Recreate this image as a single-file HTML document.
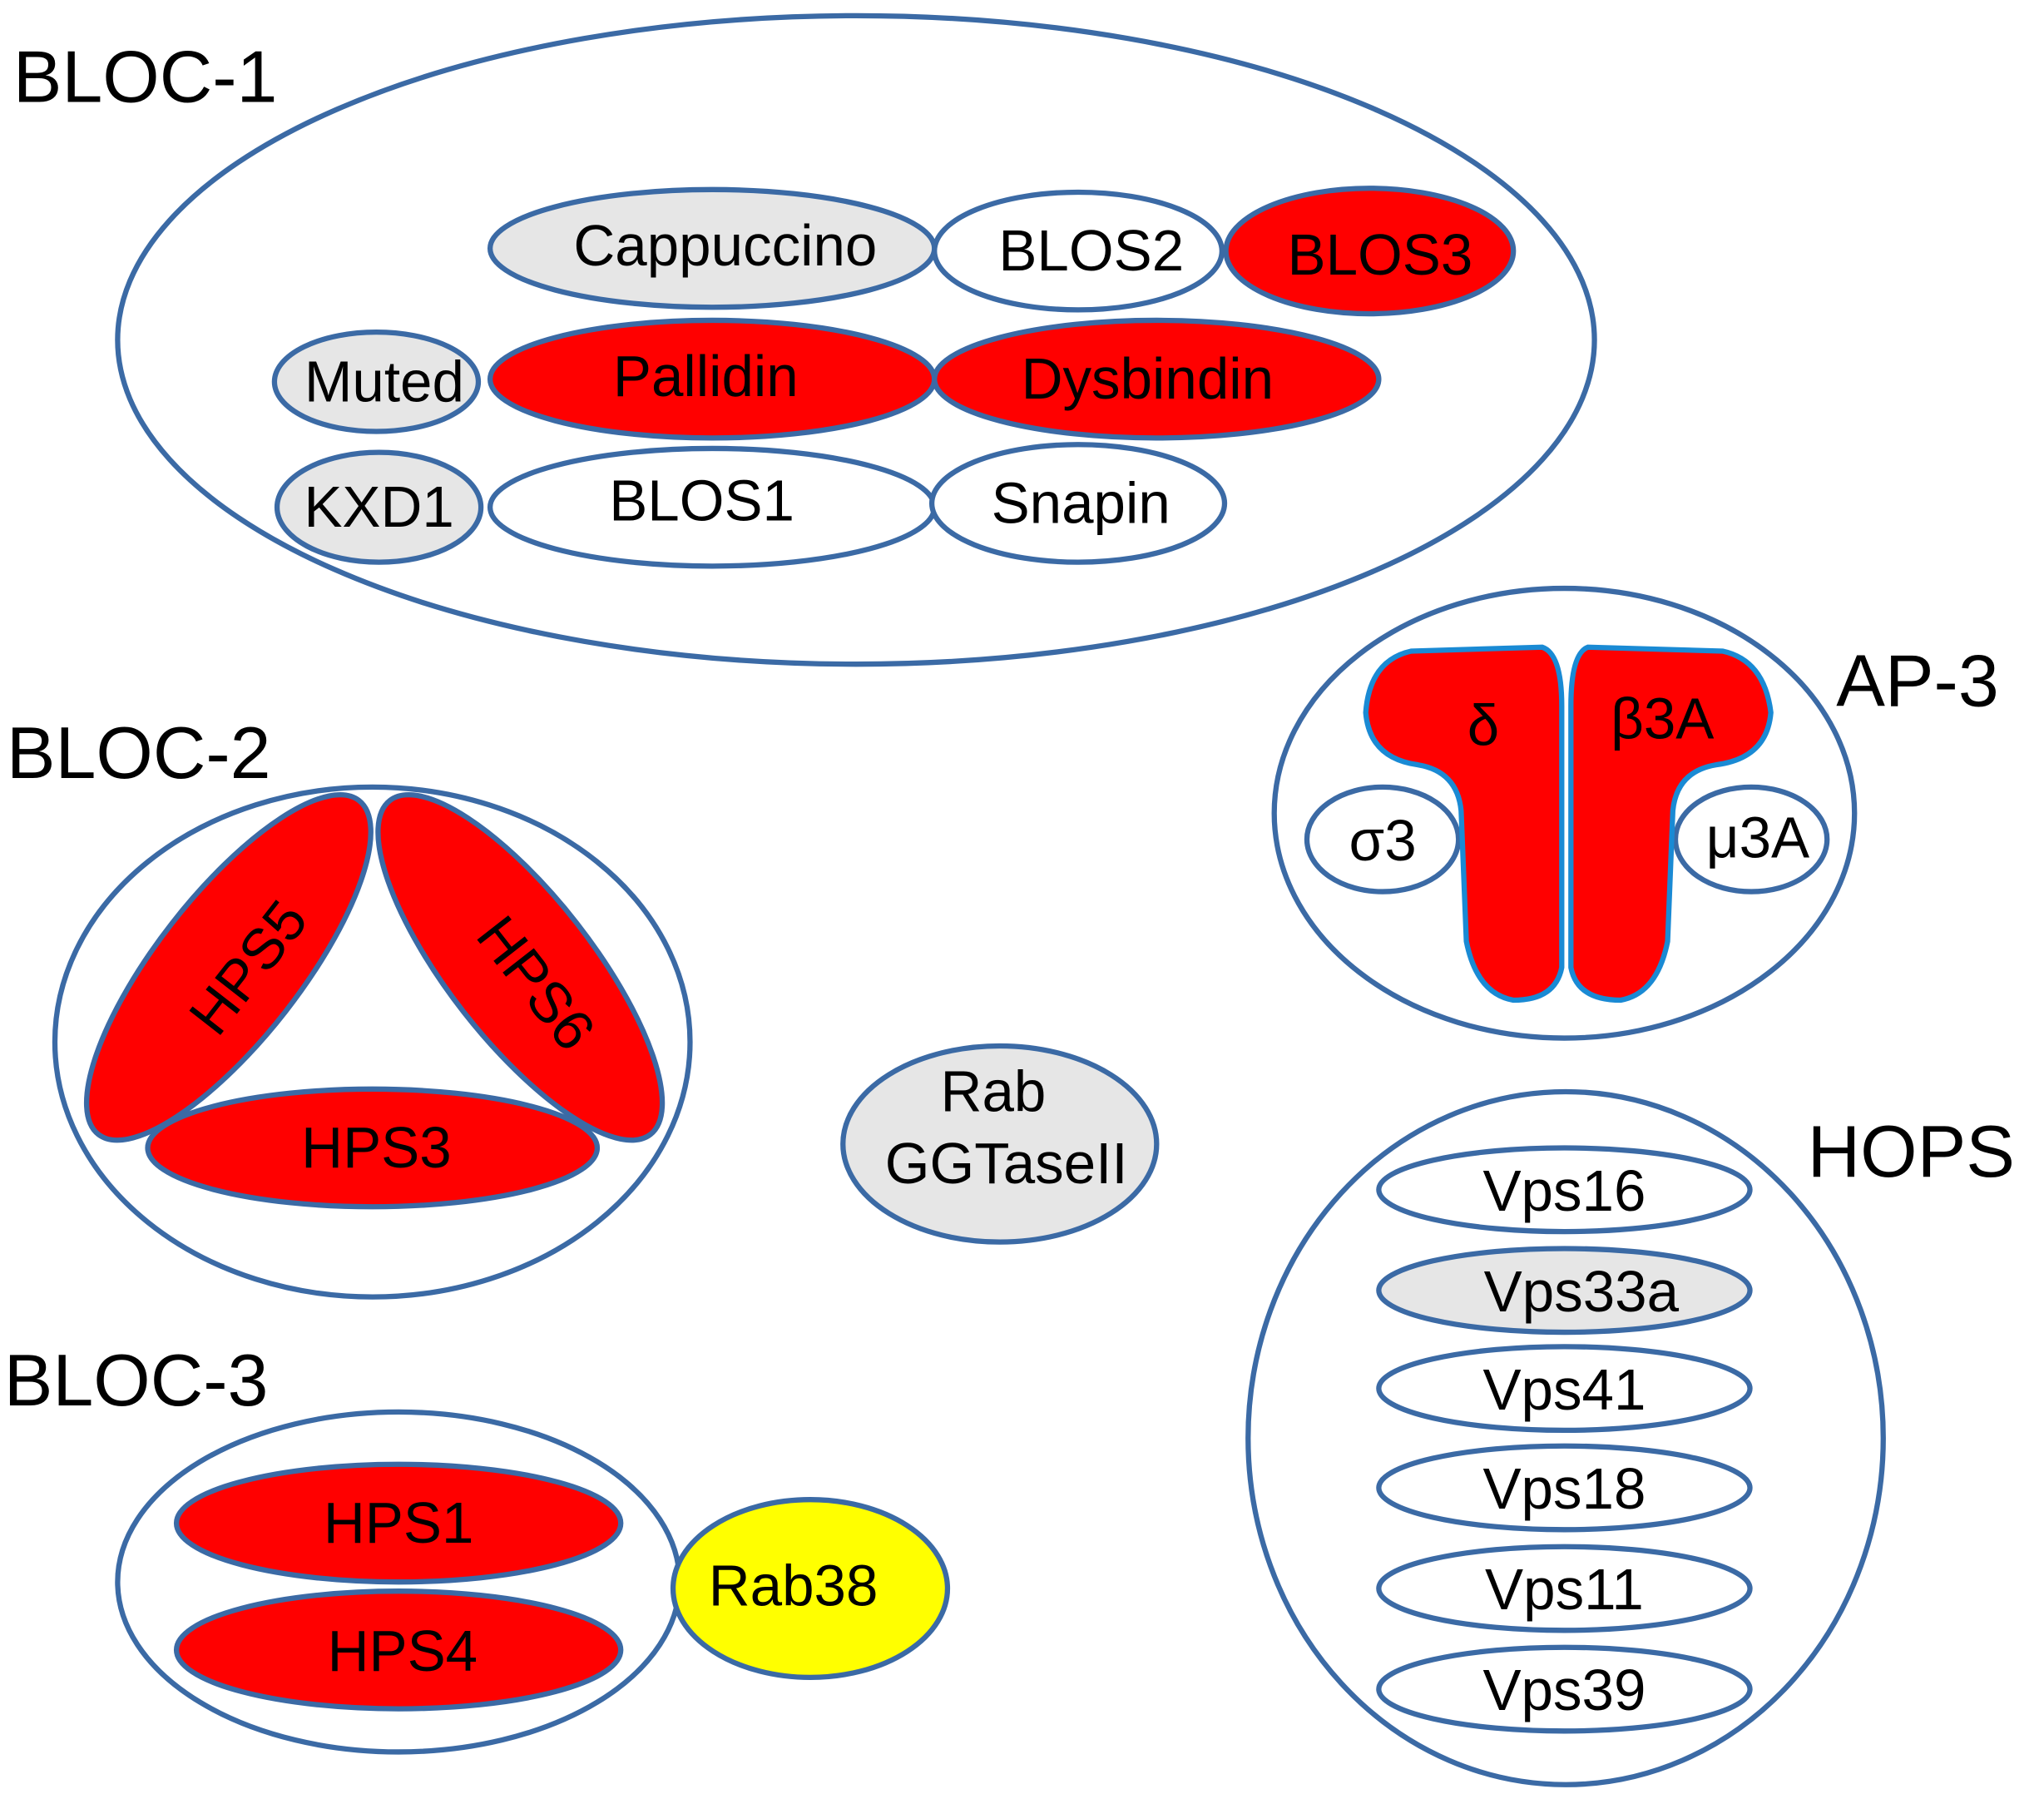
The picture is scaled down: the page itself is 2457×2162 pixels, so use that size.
<!DOCTYPE html>
<html><head><meta charset="utf-8"><style>
html,body{margin:0;padding:0;background:#fff;}
svg{display:block;width:2457px;height:2162px;}
text{font-family:"Liberation Sans",sans-serif;fill:#000;}
</style></head><body>
<svg viewBox="0 0 1564 1376" preserveAspectRatio="none" xmlns="http://www.w3.org/2000/svg">
<g stroke="#3b6aa5" stroke-width="4">
<ellipse cx="655" cy="260" rx="565" ry="248" fill="#fff"/>
<ellipse cx="545" cy="190" rx="170" ry="45" fill="#e6e6e6"/>
<ellipse cx="825" cy="192" rx="110" ry="45" fill="#fff"/>
<ellipse cx="1048" cy="192" rx="110" ry="48" fill="#f00"/>
<ellipse cx="288" cy="292" rx="78" ry="38" fill="#e6e6e6"/>
<ellipse cx="545" cy="290" rx="170" ry="45" fill="#f00"/>
<ellipse cx="885" cy="290" rx="170" ry="45" fill="#f00"/>
<ellipse cx="290" cy="388" rx="78" ry="42" fill="#e6e6e6"/>
<ellipse cx="545" cy="388" rx="170" ry="45" fill="#fff"/>
<ellipse cx="825" cy="385" rx="112" ry="45" fill="#fff"/>

<ellipse cx="285" cy="797" rx="243" ry="195" fill="#fff"/>
<ellipse cx="175" cy="740" rx="162" ry="55" fill="#f00" transform="rotate(-52 175 740)"/>
<ellipse cx="398" cy="740" rx="162" ry="55" fill="#f00" transform="rotate(52 398 740)"/>
<ellipse cx="285" cy="878" rx="172" ry="45" fill="#f00"/>

<ellipse cx="765" cy="875" rx="120" ry="75" fill="#e6e6e6"/>

<ellipse cx="305" cy="1210" rx="215" ry="130" fill="#fff"/>
<ellipse cx="305" cy="1165" rx="170" ry="45" fill="#f00"/>
<ellipse cx="305" cy="1262" rx="170" ry="45" fill="#f00"/>
<ellipse cx="620" cy="1215" rx="105" ry="68" fill="#ff0"/>

<ellipse cx="1197" cy="622" rx="222" ry="172" fill="#fff"/>
<ellipse cx="1058" cy="642" rx="58" ry="40" fill="#fff"/>
<ellipse cx="1340" cy="642" rx="58" ry="40" fill="#fff"/>

<ellipse cx="1198" cy="1100" rx="243" ry="265" fill="#fff"/>
<ellipse cx="1197" cy="910" rx="142" ry="32" fill="#fff"/>
<ellipse cx="1197" cy="987" rx="142" ry="32" fill="#e6e6e6"/>
<ellipse cx="1197" cy="1062" rx="142" ry="32" fill="#fff"/>
<ellipse cx="1197" cy="1138" rx="142" ry="32" fill="#fff"/>
<ellipse cx="1197" cy="1215" rx="142" ry="32" fill="#fff"/>
<ellipse cx="1197" cy="1292" rx="142" ry="32" fill="#fff"/>
</g>
<g stroke="#1a8ad4" stroke-width="4" fill="#f00">
<path d="M1180 495 Q1195 500 1195 540 L1195 740 Q1190 765 1158 765 Q1130 760 1122 720 L1118 620 Q1115 590 1085 585 Q1048 580 1045 545 Q1048 505 1080 498 Z"/>
<path d="M1215 495 Q1202 500 1202 540 L1202 740 Q1207 765 1240 765 Q1268 760 1276 720 L1280 620 Q1283 590 1313 585 Q1352 580 1355 545 Q1350 505 1318 498 Z"/>
</g>
<g font-size="56">
<text x="10" y="78">BLOC-1</text>
<text x="5" y="595">BLOC-2</text>
<text x="3" y="1075">BLOC-3</text>
<text x="1405" y="540">AP-3</text>
<text x="1383" y="900">HOPS</text>
</g>
<g font-size="44" text-anchor="middle">
<text x="555" y="203">Cappuccino</text>
<text x="835" y="207">BLOS2</text>
<text x="1056" y="210">BLOS3</text>
<text x="294" y="307">Muted</text>
<text x="540" y="303">Pallidin</text>
<text x="878" y="305">Dysbindin</text>
<text x="290" y="403">KXD1</text>
<text x="537" y="398">BLOS1</text>
<text x="827" y="400">Snapin</text>
<text x="190" y="740" transform="rotate(-52 190 740)" dy="15">HPS5</text>
<text x="410" y="752" transform="rotate(52 410 752)" dy="15">HPS6</text>
<text x="288" y="893">HPS3</text>
<text x="760" y="850">Rab</text>
<text x="770" y="905">GGTaseII</text>
<text x="305" y="1180">HPS1</text>
<text x="308" y="1278">HPS4</text>
<text x="607" y="1228">Rab38</text>
<text x="1135" y="570">δ</text>
<text x="1272" y="565">β3A</text>
<text x="1058" y="658">σ3</text>
<text x="1345" y="656">μ3A</text>
<text x="1197" y="926">Vps16</text>
<text x="1210" y="1003">Vps33a</text>
<text x="1197" y="1078">Vps41</text>
<text x="1197" y="1154">Vps18</text>
<text x="1197" y="1231">Vps11</text>
<text x="1197" y="1308">Vps39</text>
</g>
</svg>
</body></html>
